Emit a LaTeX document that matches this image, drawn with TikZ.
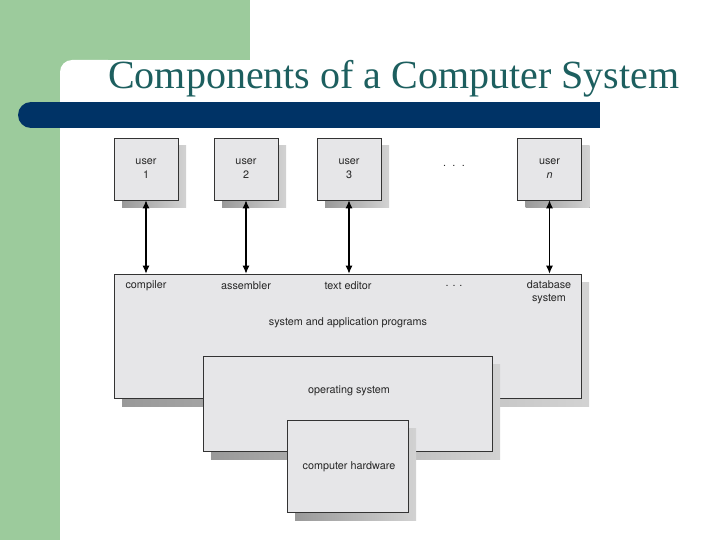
\documentclass[tikz,border=0pt]{standalone}
\usepackage{fontspec}
\setmainfont{Liberation Serif}
\newfontfamily\lblfont{TeX Gyre Heros}
\usetikzlibrary{shadows,arrows.meta}
\definecolor{slgreen}{HTML}{9CCB9C}
\definecolor{slnavy}{HTML}{003366}
\definecolor{slteal}{HTML}{1D5F5F}
\definecolor{boxfill}{HTML}{E6E6E8}
\begin{document}
\begin{tikzpicture}[x=1pt,y=-1pt,
  box/.style={draw=black!80, line width=0.6pt, fill=boxfill, inner sep=0pt,
    font=\lblfont\fontsize{10.8}{14}\selectfont, text=black!85, align=center,
    drop shadow={shadow xshift=8pt, shadow yshift=-8pt, left color=gray!80, right color=gray!35, opacity=1, draw=none}},
  lbl/.style={font=\lblfont\fontsize{10.8}{13}\selectfont, text=black!85, align=center, inner sep=1pt},
  link/.style={{Latex[length=8pt,width=7pt]}-{Latex[length=8pt,width=7pt]}, line width=1.1pt}]
\useasboundingbox (0,0) rectangle (720,540);
% slide background
\fill[slgreen] (0,0) rectangle (250,60);
\fill[slgreen] (0,0) rectangle (60,540);
\fill[slgreen] (60,60) rectangle (80,80);
\fill[white, rounded corners=12pt] (60,60) rectangle (120,120);
\fill[slnavy] (31,115) circle (13);
\fill[slnavy] (31,102) rectangle (600,128);
\node[anchor=base west, text=slteal, font=\fontsize{40}{44}\selectfont, inner sep=0pt] (title) at (108,89) {Components of a Computer System};
% users
\node[box, minimum width=64pt, minimum height=62pt] (u1) at (146,169) {user\\1};
\node[box, minimum width=64pt, minimum height=62pt] (u2) at (246,169) {user\\2};
\node[box, minimum width=64pt, minimum height=62pt] (u3) at (349,169) {user\\3};
\node[box, minimum width=64pt, minimum height=62pt] (un) at (549.5,169) {user\\\textit{n}};
\node[lbl] (udots) at (454,166) {.\hspace{6.5pt}.\hspace{6.5pt}.};
% layers
\node[box, minimum width=467pt, minimum height=124pt] (sys) at (347.5,336) {};
\node[lbl] (compiler) at (146,286) {compiler};
\node[lbl] (assembler) at (246,286) {assembler};
\node[lbl] (editor) at (348,286) {text editor};
\node[lbl] (sdots) at (454,286) {.\hspace{4pt}.\hspace{4pt}.};
\node[lbl] (database) at (549,292) {database\\system};
\node[lbl] (sysapp) at (348,323) {system and application programs};
\node[box, minimum width=289pt, minimum height=95pt] (os) at (347.5,403.5) {};
\node[lbl] (oslbl) at (349,391) {operating system};
\node[box, minimum width=121pt, minimum height=92pt] (hw) at (347.5,466) {};
\node[lbl] (hwlbl) at (349,467) {computer hardware};
% connectors
\draw[link] (u1.south) -- (u1.south |- sys.north);
\draw[link] (u2.south) -- (u2.south |- sys.north);
\draw[link] (u3.south) -- (u3.south |- sys.north);
\draw[link] (un.south) -- (un.south |- sys.north);
\end{tikzpicture}
\end{document}
